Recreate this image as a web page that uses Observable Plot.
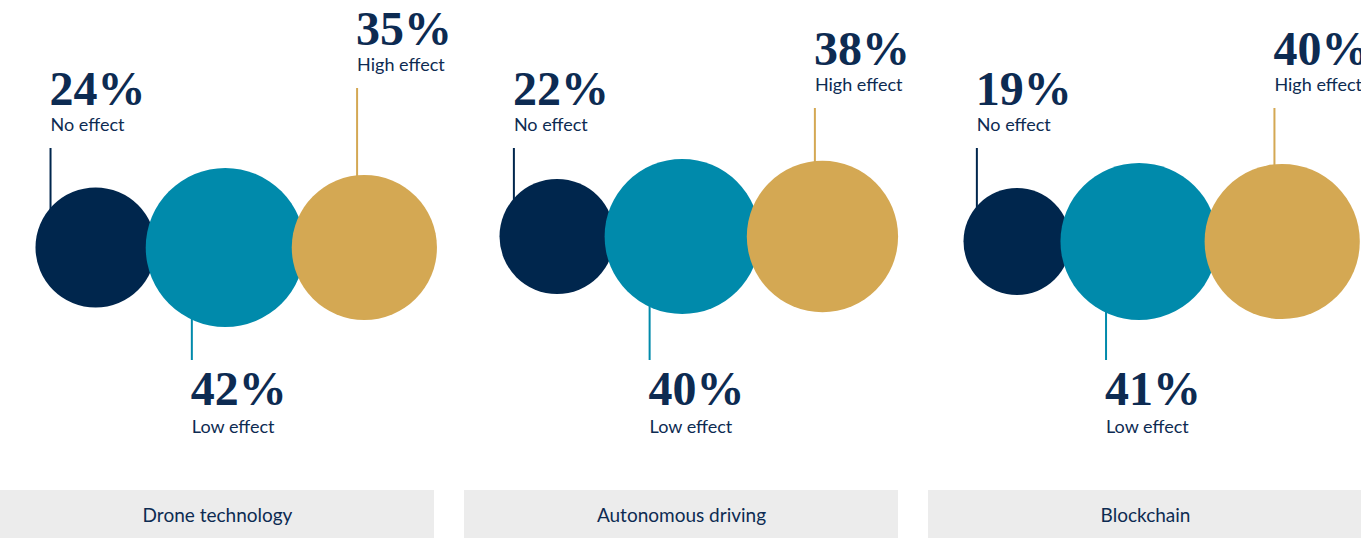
<!DOCTYPE html>
<html>
<head>
<meta charset="utf-8">
<script src="https://cdn.jsdelivr.net/npm/d3@7"></script>
<script src="https://cdn.jsdelivr.net/npm/@observablehq/plot@0.6"></script>
<style>
  html, body { margin: 0; padding: 0; background: #fff; }
  #chart svg { display: block; }
</style>
</head>
<body>
<div id="chart"></div>
<script>
// ---- data ----
const categories = ["Drone technology", "Autonomous driving", "Blockchain"];
const levels = ["No effect", "Low effect", "High effect"];
const noEffect = [24, 22, 19];
const lowEffect = [42, 40, 41];
const highEffect = [35, 38, 40];

// ---- layout / style ----
const W = 1361, H = 538;
const colors = ["#00264d", "#008aab", "#d4a853"];
const textColor = "#0d2b52";
const panelW = 434, panelGap = 30;
const centerY = [247, 236, 241];
const highTop = [88, 108, 108];
const noTop = 148, lowBottom = 360;
const K = 12.27; // px per sqrt(percent)
const rad = v => K * Math.sqrt(v);

const circles = [], leaders = [], numLabels = [], nameLabels = [], bands = [];
categories.forEach((cat, i) => {
  const px = i * (panelW + panelGap);
  const vals = [noEffect[i], lowEffect[i], highEffect[i]];
  const r = vals.map(rad);
  const cx0 = px + 35 + r[0];
  const cx1 = cx0 + r[0] + r[1] - 10;
  const cx2 = cx1 + r[1] + r[2] - 13;
  const cxs = [cx0, cx1, cx2];
  const cy = centerY[i];
  bands.push({cat, x1: px, x2: px + panelW});
  vals.forEach((v, j) => circles.push({cat, level: levels[j], value: v, x: cxs[j], y: cy}));
  const frac = [0.75, 0.42, 0.1];
  vals.forEach((v, j) => {
    const lx = cxs[j] - frac[j] * r[j];
    const dy = Math.sqrt(r[j] ** 2 - (lx - cxs[j]) ** 2);
    if (j === 1) {
      leaders.push({level: levels[j], x: lx, y1: cy + dy - 3, y2: lowBottom});
      numLabels.push({level: levels[j], x: lx - 1, y: lowBottom + 44, text: v + "%"});
      nameLabels.push({x: lx, y: lowBottom + 72, text: levels[j]});
    } else {
      const top = j === 0 ? noTop : highTop[i];
      leaders.push({level: levels[j], x: lx, y1: top, y2: cy - dy + 3});
      numLabels.push({level: levels[j], x: lx - 1, y: top - 44, text: v + "%"});
      nameLabels.push({x: lx, y: top - 18, text: levels[j]});
    }
  });
});

const chart = Plot.plot({
  width: W,
  height: H,
  margin: 0,
  x: {domain: [0, W], range: [0, W], axis: null},
  y: {domain: [0, H], range: [0, H], axis: null},
  r: {type: "sqrt", domain: [0, 100], range: [0, K * 10]},
  color: {domain: levels, range: colors},
  style: {fontFamily: "Lato", background: "#fff"},
  marks: [
    Plot.rect(bands, {x1: "x1", x2: "x2", y1: () => 490, y2: () => H, fill: "#ececec"}),
    Plot.text(bands, {x: d => (d.x1 + d.x2) / 2, y: () => 515, text: "cat", fontSize: 19, fill: textColor, fontFamily: "Lato", textAnchor: "middle"}),
    Plot.ruleX(leaders, {x: "x", y1: "y1", y2: "y2", stroke: "level", strokeWidth: 2}),
    Plot.dot(circles, {x: "x", y: "y", r: "value", fill: "level", sort: null}),
    Plot.text(numLabels, {x: "x", y: "y", text: "text", textAnchor: "start", lineAnchor: "bottom", fontSize: 48, fontWeight: "bold", fontFamily: "Liberation Serif", fill: textColor}),
    Plot.text(nameLabels, {x: "x", y: "y", text: "text", textAnchor: "start", lineAnchor: "bottom", fontSize: 18, fontFamily: "Lato", fill: textColor})
  ]
});
document.getElementById("chart").appendChild(chart);
</script>
</body>
</html>
